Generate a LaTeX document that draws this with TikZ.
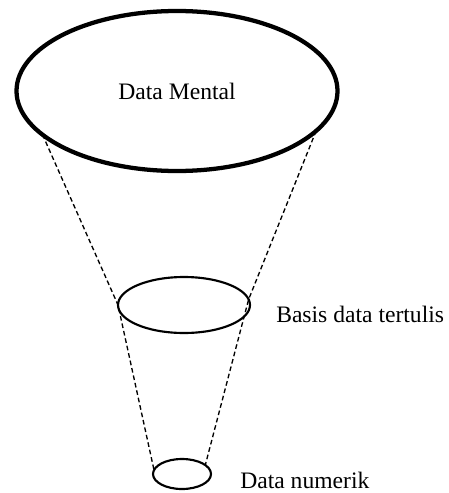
\documentclass[tikz,border=0pt]{standalone}
\usepackage{fontspec}
\setmainfont{Liberation Serif}
\usetikzlibrary{shapes.geometric,positioning}

\begin{document}
\begin{tikzpicture}[
    x=0.75pt, y=-0.75pt,
    every node/.style={font=\fontsize{17.7}{20}\selectfont, inner sep=0pt},
    level/.style={draw, ellipse, outer sep=0pt},
    label/.style={anchor=base west},
    guide/.style={dashed, dash pattern=on 3.5pt off 2.2pt, line width=1pt}
]
\useasboundingbox (0,0) rectangle (449,493);
\node[level, line width=3.2pt, minimum width=240.75pt, minimum height=120pt] (mental) at (177,91) {Data Mental};
\node[level, line width=1.6pt, minimum width=99pt, minimum height=42pt] (tertulis) at (184,305) {};
\node[level, line width=1.6pt, minimum width=43.5pt, minimum height=22.5pt] (numerik) at (182,474) {};
\node[label] (tertulislabel) at (276,322) {Basis data tertulis};
\node[label] (numeriklabel) at (240,488) {Data numerik};
% garis corong
\draw[guide] (mental.198) -- (tertulis.west) -- (numerik.172);
\draw[guide] (mental.344) -- (tertulis.5) -- (numerik.21);
\end{tikzpicture}
\end{document}
